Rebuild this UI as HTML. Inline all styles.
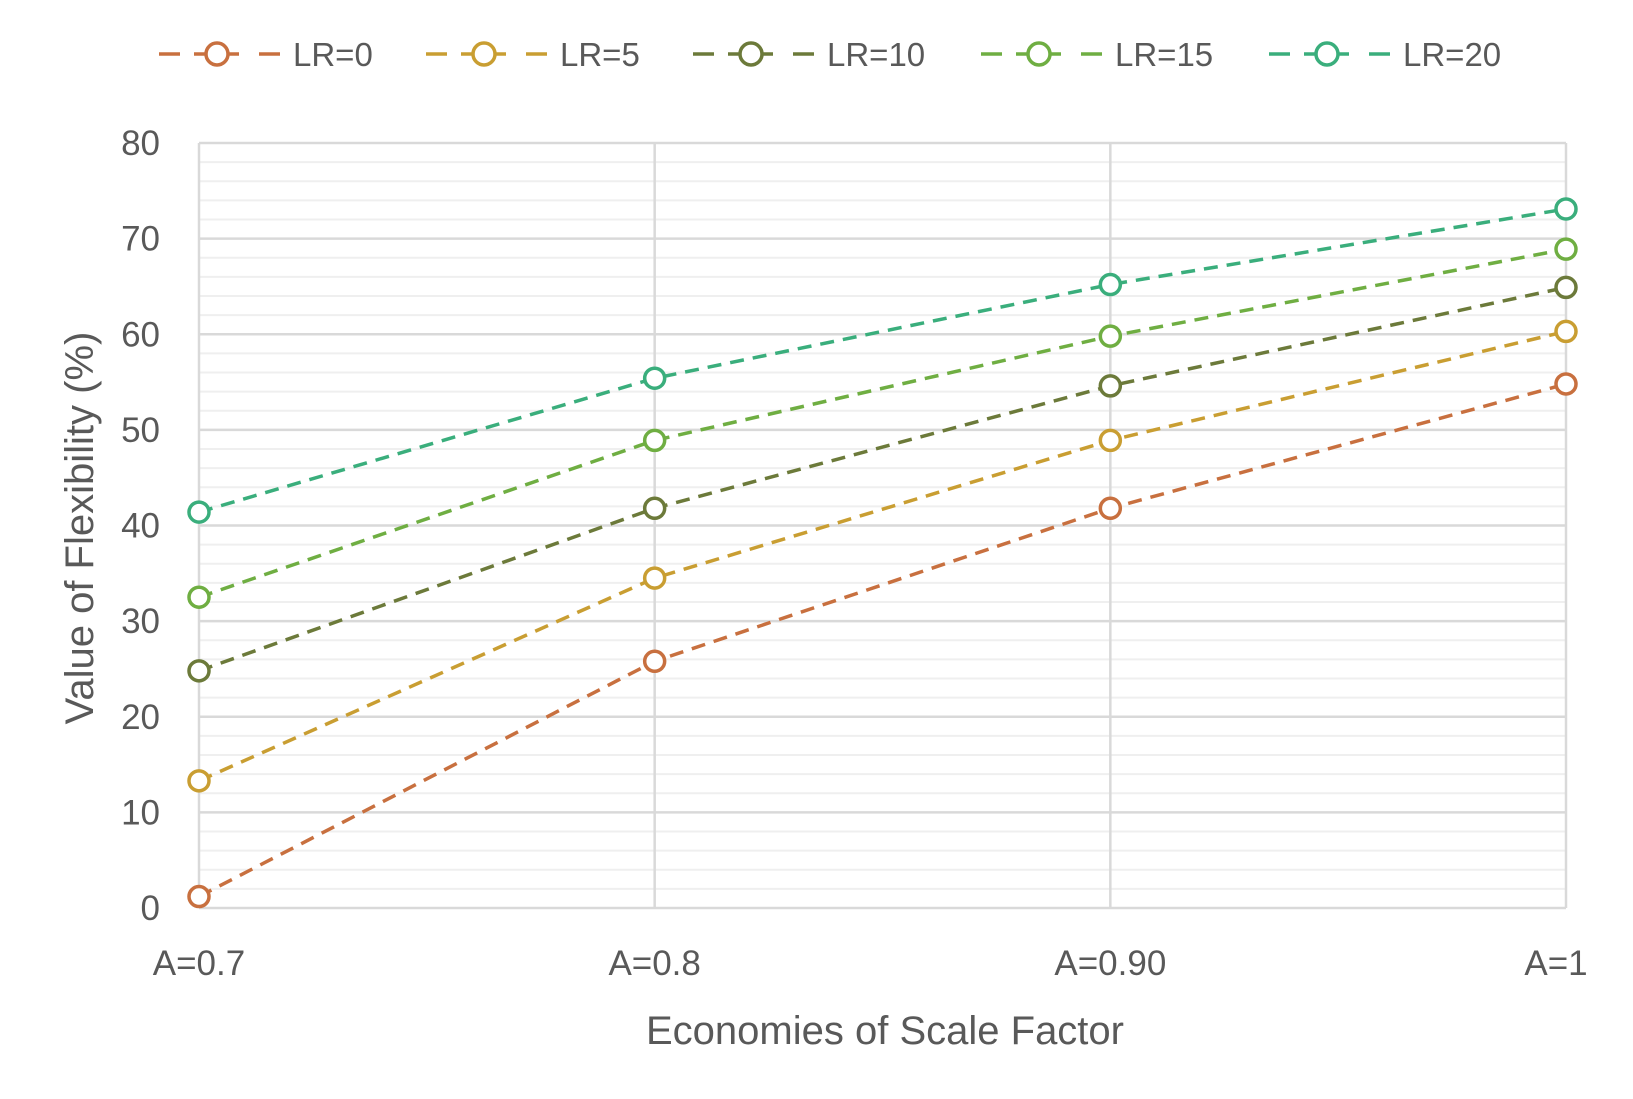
<!DOCTYPE html>
<html><head><meta charset="utf-8"><style>
body{margin:0;background:#fff;}
svg{display:block;font-family:"Liberation Sans",sans-serif;}
</style></head><body>
<svg id="chart" width="1633" height="1099"></svg>
<script>
const categories=["A=0.7","A=0.8","A=0.90","A=1"];
const seriesNames=["LR=0","LR=5","LR=10","LR=15","LR=20"];
const lr0=[1.2,25.8,41.8,54.8];
const lr5=[13.3,34.5,48.9,60.3];
const lr10=[24.8,41.8,54.6,64.9];
const lr15=[32.5,48.9,59.8,68.9];
const lr20=[41.4,55.4,65.2,73.1];
const yTicks=[0,10,20,30,40,50,60,70,80];
const seriesValues=[lr0,lr5,lr10,lr15,lr20];
const colors=["#C8703F","#C99E32","#6C7A3A","#6FAE42","#3AAE7C"];
const NS="http://www.w3.org/2000/svg";
const svg=document.getElementById('chart');
const L=199,R=1566,T=143,B=908;
const x=i=>L+(R-L)*i/(categories.length-1);
const y=v=>B-(B-T)*v/80;
function mk(t,a,p){const e=document.createElementNS(NS,t);for(const k in a)e.setAttribute(k,a[k]);(p||svg).appendChild(e);return e;}
for(let v=2;v<80;v+=2){if(v%10===0)continue;const g=mk('line',{x1:L,x2:R,y1:y(v),y2:y(v),stroke:'#efefef','stroke-width':2});

}
yTicks.forEach(v=>{const g=mk('line',{x1:L,x2:R,y1:y(v),y2:y(v),stroke:'#d9d9d9','stroke-width':2.5});


const t=mk('text',{x:160,y:y(v)+12,'text-anchor':'end','font-size':35,fill:'#595959'});t.textContent=v;

});
categories.forEach((c,i)=>{const g=mk('line',{x1:x(i),x2:x(i),y1:T,y2:B,stroke:'#d9d9d9','stroke-width':2.5});


const t=mk('text',{x:i===categories.length-1?x(i)-10:x(i),y:975,'text-anchor':'middle','font-size':35,fill:'#595959'});t.textContent=c;

});
seriesValues.forEach((vals,s)=>{
const g=mk('g',{});


mk('polyline',{points:vals.map((v,i)=>x(i)+','+y(v)).join(' '),fill:'none',stroke:colors[s],'stroke-width':3.5,'stroke-dasharray':'14 9'},g);
vals.forEach((v,i)=>{const c=mk('circle',{cx:x(i),cy:y(v),r:10,fill:'#fff',stroke:colors[s],'stroke-width':3.5},g);

});
});
const legX=[159,426,693,981,1269];
seriesNames.forEach((n,s)=>{const g=mk('g',{});


const lx=legX[s],ly=54;
mk('line',{x1:lx,x2:lx+21,y1:ly,y2:ly,stroke:colors[s],'stroke-width':3.5},g);
mk('line',{x1:lx+35,x2:lx+80,y1:ly,y2:ly,stroke:colors[s],'stroke-width':3.5},g);
mk('line',{x1:lx+100,x2:lx+121,y1:ly,y2:ly,stroke:colors[s],'stroke-width':3.5},g);
mk('circle',{cx:lx+58,cy:ly,r:11,fill:'#fff',stroke:colors[s],'stroke-width':3.5},g);
const t=mk('text',{x:lx+134,y:ly+12,'font-size':33,fill:'#595959'},g);t.textContent=n;});
const xt=mk('text',{x:885,y:1044,'text-anchor':'middle','font-size':40,fill:'#595959'});xt.textContent='Economies of Scale Factor';


const yt=mk('text',{x:0,y:0,'text-anchor':'middle','font-size':40,fill:'#595959',transform:'translate(93,528) rotate(-90)'});yt.textContent='Value of Flexibility (%)';


</script>
</body></html>
